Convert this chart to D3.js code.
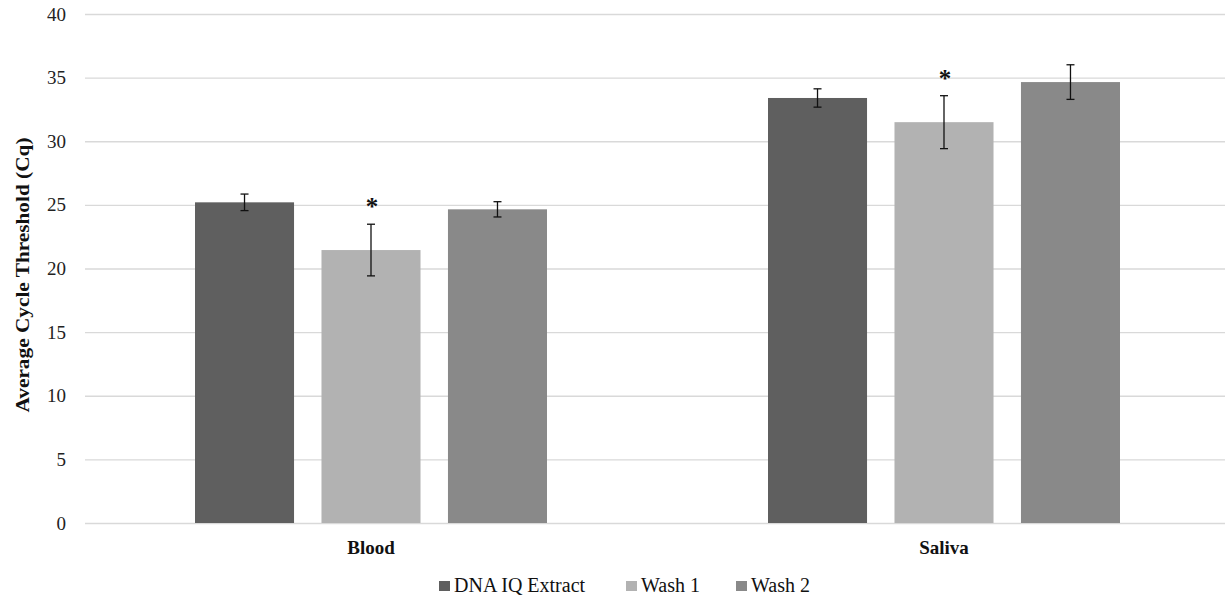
<!DOCTYPE html>
<html><head><meta charset="utf-8">
<script src="https://cdn.jsdelivr.net/npm/d3@7/dist/d3.min.js"></script>
<style>body{margin:0;background:#fff}svg{display:block}</style>
</head><body>
<svg id="c" width="1225" height="598" style="font-family:'Liberation Serif', 'Times New Roman', serif"></svg>
<script>
const categories = ["Blood", "Saliva"];
const seriesNames = ["DNA IQ Extract", "Wash 1", "Wash 2"];
const seriesColors = ["#5f5f5f", "#b2b2b2", "#898989"];
const dnaIQ = [25.2, 33.4];
const wash1 = [21.45, 31.5];
const wash2 = [24.65, 34.65];
const errDnaIQ = [0.65, 0.72];
const errWash1 = [2.03, 2.08];
const errWash2 = [0.6, 1.36];
const significant = [[false, true, false], [false, true, false]];
const yTicks = [0, 5, 10, 15, 20, 25, 30, 35, 40];

(function () {
const FONT = "Liberation Serif";
const values = [dnaIQ, wash1, wash2];
const errs = [errDnaIQ, errWash1, errWash2];

const svg = d3.select("#c");
const pLeft = 85, pRight = 1225, pTop = 14, pBottom = 523;

const y = d3.scaleLinear().domain([0, 40]).range([pBottom, pTop]);
const x0 = d3.scaleBand().domain(categories).range([84.5, 1230.5]);
const groupW = 352;
const x1 = d3.scaleBand().domain(seriesNames).range([0, groupW]).paddingInner(0.217);

// gridlines
svg.append("g").selectAll("line").data(yTicks).join("line")
  .attr("x1", pLeft).attr("x2", pRight)
  .attr("y1", d => y(d) + 0.5).attr("y2", d => y(d) + 0.5)
  .attr("stroke", "#d9d9d9").attr("stroke-width", 1.3);

// y axis labels
const yAxis = d3.axisLeft(y).tickValues(yTicks).tickSize(0).tickPadding(0);
const ga = svg.append("g").attr("transform", "translate(66,0)").call(yAxis);
ga.attr("font-family", FONT).attr("font-size", 19);
ga.select(".domain").remove();
ga.selectAll("text").attr("font-family", FONT).attr("font-size", 19).attr("fill", "#222");

// y title
svg.append("text").attr("transform", `translate(29,275) rotate(-90)`)
  .attr("text-anchor", "middle").attr("font-size", 19).attr("font-weight", "bold")
  .attr("textLength", 275).attr("lengthAdjust", "spacingAndGlyphs")
  .attr("font-family", FONT)
  .attr("fill", "#111").text("Average Cycle Threshold (Cq)");

// bars
categories.forEach((cat, ci) => {
  const gx = x0(cat) + x0.bandwidth()/2 - groupW/2;
  seriesNames.forEach((s, si) => {
    const v = values[si][ci], e = errs[si][ci];
    const bx = gx + x1(s), bw = x1.bandwidth();
    svg.append("rect").attr("x", bx).attr("y", y(v)).attr("width", bw)
      .attr("height", y(0) - y(v)).attr("fill", seriesColors[si]);
    const cx = bx + bw/2;
    const g = svg.append("g").attr("stroke", "#111").attr("stroke-width", 1.3);
    g.append("line").attr("x1", cx).attr("x2", cx).attr("y1", y(v+e)).attr("y2", y(v-e));
    g.append("line").attr("x1", cx-4).attr("x2", cx+4).attr("y1", y(v+e)).attr("y2", y(v+e));
    g.append("line").attr("x1", cx-4).attr("x2", cx+4).attr("y1", y(v-e)).attr("y2", y(v-e));
    if (significant[ci][si]) {
      svg.append("text").attr("x", cx + 1).attr("y", y(v+e) - 9).attr("text-anchor", "middle")
        .attr("font-size", 25).attr("font-weight", "bold").attr("fill", "#111")
        .attr("font-family", FONT).text("*");
    }
  });
});

// x labels
const xAxis = d3.axisBottom(x0).tickSize(0).tickPadding(0);
const gxa = svg.append("g").attr("transform", `translate(0,${pBottom})`).call(xAxis);
gxa.attr("font-family", FONT).attr("font-size", 19);
gxa.select(".domain").remove();
gxa.selectAll("text").attr("dy", 0).attr("y", 31).attr("font-size", 19).attr("font-weight", "bold")
  .attr("fill", "#111").attr("font-family", FONT);

// legend
const legX = [439, 626, 736];
const lg = svg.append("g");
seriesNames.forEach((s, i) => {
  lg.append("rect").attr("x", legX[i]).attr("y", 581).attr("width", 11).attr("height", 10).attr("fill", seriesColors[i]);
  lg.append("text").attr("x", legX[i] + 15).attr("y", 592).attr("font-size", 20).attr("fill", "#111")
    .attr("font-family", FONT).text(s);
});
})();
</script>
</body></html>
